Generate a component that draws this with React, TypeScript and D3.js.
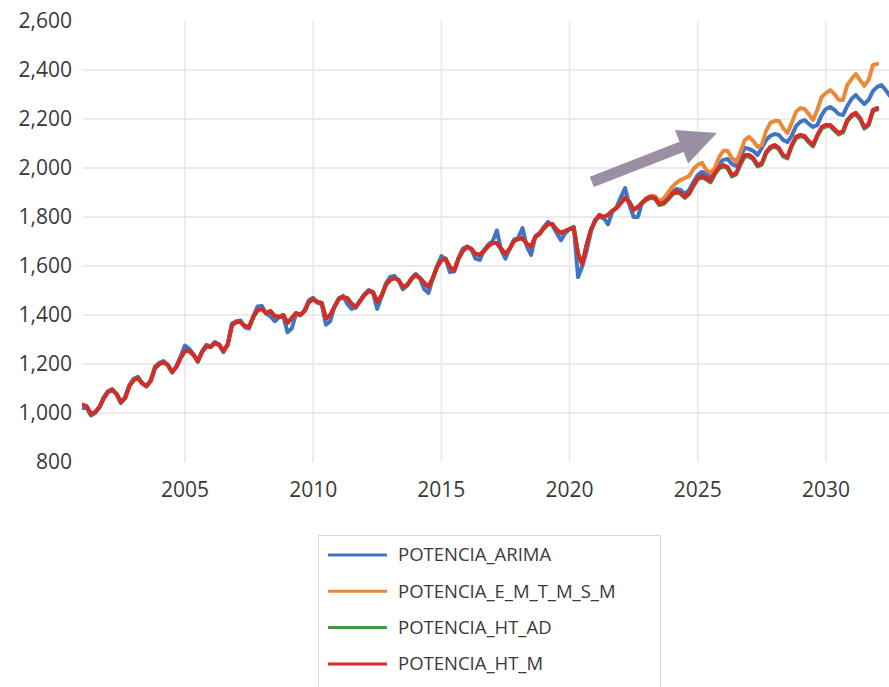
import * as d3 from "d3";

// bimonthly points from 2001.0 (i / 6 years after the start)
const startYear = 2001;
const stepYears = 1 / 6;

// shared history (E_M_T_M_S_M, HT_AD, HT_M) 2001.0 - 2022.83
const historico = [
  1033, 1027, 996, 1004, 1024, 1061,
  1086, 1094, 1078, 1045, 1061, 1110,
  1135, 1143, 1122, 1110, 1131, 1184,
  1200, 1208, 1196, 1167, 1188, 1225,
  1253, 1253, 1237, 1212, 1249, 1273,
  1269, 1286, 1278, 1253, 1278, 1359,
  1371, 1371, 1355, 1351, 1392, 1420,
  1425, 1408, 1416, 1396, 1392, 1400,
  1367, 1388, 1408, 1400, 1416, 1453,
  1465, 1453, 1449, 1385, 1400, 1433,
  1465, 1473, 1469, 1445, 1433, 1457,
  1482, 1498, 1494, 1453, 1478, 1522,
  1543, 1551, 1543, 1514, 1522, 1547,
  1563, 1551, 1531, 1514, 1551, 1596,
  1624, 1629, 1596, 1580, 1629, 1661,
  1678, 1670, 1649, 1645, 1661, 1682,
  1694, 1694, 1670, 1649, 1670, 1702,
  1710, 1714, 1690, 1678, 1718, 1731,
  1755, 1771, 1771, 1747, 1735, 1743,
  1751, 1755, 1649, 1608, 1686, 1747,
  1784, 1808, 1800, 1808, 1825, 1837,
  1857, 1878, 1861, 1829, 1841, 1857,
];

// ARIMA history (same period)
const arimaHistorico = [
  1020, 1020, 990, 1000, 1024, 1065,
  1090, 1098, 1075, 1040, 1065, 1115,
  1140, 1148, 1120, 1108, 1135, 1190,
  1205, 1212, 1195, 1165, 1192, 1232,
  1275, 1262, 1240, 1208, 1252, 1278,
  1272, 1290, 1280, 1248, 1282, 1365,
  1375, 1378, 1350, 1345, 1395, 1435,
  1437, 1405, 1395, 1375, 1390, 1395,
  1330, 1345, 1405, 1398, 1420, 1460,
  1470, 1450, 1445, 1360, 1375, 1435,
  1468, 1478, 1445, 1425, 1430, 1460,
  1485, 1502, 1490, 1425, 1475, 1528,
  1555, 1560, 1540, 1505, 1520, 1550,
  1568, 1548, 1505, 1490, 1548, 1600,
  1640, 1630, 1575, 1578, 1632, 1670,
  1680, 1668, 1630, 1625, 1665, 1688,
  1700, 1745, 1665, 1630, 1672, 1708,
  1715, 1755, 1680, 1645, 1722, 1735,
  1760, 1780, 1765, 1735, 1705, 1735,
  1750, 1760, 1555, 1600, 1660, 1740,
  1790, 1800, 1795, 1770, 1820, 1840,
  1880, 1918, 1850, 1800, 1800, 1860,
];

// forecasts from 2023.0
const arimaPron = [
  1874, 1882, 1882, 1857, 1861, 1882,
  1902, 1914, 1910, 1894, 1910, 1943,
  1971, 1984, 1976, 1963, 1992, 2020,
  2033, 2037, 2016, 2008, 2049, 2082,
  2078, 2069, 2053, 2082, 2114, 2131,
  2139, 2135, 2114, 2106, 2131, 2171,
  2188, 2196, 2180, 2167, 2176, 2216,
  2241, 2249, 2237, 2220, 2216, 2253,
  2282, 2298, 2278, 2261, 2278, 2314,
  2331, 2339, 2318, 2294,
];

const emtmsmPron = [
  1878, 1886, 1886, 1865, 1874, 1898,
  1923, 1939, 1951, 1959, 1967, 1996,
  2012, 2021, 1992, 1980, 2000, 2045,
  2070, 2070, 2041, 2025, 2065, 2114,
  2127, 2110, 2086, 2094, 2151, 2184,
  2192, 2192, 2163, 2143, 2184, 2229,
  2245, 2241, 2220, 2196, 2237, 2290,
  2306, 2318, 2302, 2278, 2278, 2339,
  2363, 2384, 2359, 2335, 2359, 2420,
  2425,
];

const htadPron = [
  1870, 1878, 1874, 1849, 1853, 1870,
  1890, 1902, 1894, 1878, 1894, 1926,
  1953, 1961, 1953, 1941, 1974, 1998,
  2006, 1998, 1965, 1974, 2014, 2047,
  2047, 2035, 2006, 2014, 2059, 2080,
  2088, 2076, 2047, 2039, 2088, 2121,
  2129, 2125, 2104, 2088, 2129, 2161,
  2170, 2170, 2153, 2137, 2145, 2190,
  2210, 2219, 2198, 2161, 2174, 2231,
  2239,
];

const htmPron = [
  1874, 1882, 1878, 1853, 1857, 1874,
  1894, 1906, 1898, 1882, 1898, 1931,
  1959, 1967, 1959, 1947, 1980, 2004,
  2012, 2004, 1971, 1980, 2020, 2053,
  2053, 2041, 2012, 2020, 2065, 2086,
  2094, 2082, 2053, 2045, 2094, 2127,
  2135, 2131, 2110, 2094, 2135, 2167,
  2176, 2176, 2159, 2143, 2151, 2196,
  2216, 2225, 2204, 2167, 2180, 2237,
  2245,
];

const seriesNames = [
  "POTENCIA_ARIMA",
  "POTENCIA_E_M_T_M_S_M",
  "POTENCIA_HT_AD",
  "POTENCIA_HT_M",
];
const seriesColors = ["#4174c4", "#eb893a", "#3f9a4a", "#d42b2b"];

const yTicks = [800, 1000, 1200, 1400, 1600, 1800, 2000, 2200, 2400, 2600];
const xTicks = [2005, 2010, 2015, 2020, 2025, 2030];

// arrow annotation, in data units (year, value)
const arrowFrom = [2020.87, 1943];
const arrowTo = [2025.75, 2143];

const width = 889;
const height = 687;
const textColor = "#3a3a3a";
const gridColor = "#e6e6e6";
const font = "'Open Sans', sans-serif";

type Pt = { t: number; v: number };

function toPoints(values: number[]): Pt[] {
  return values.map((v, i) => ({ t: startYear + i * stepYears, v }));
}

export default function App() {
  const x = d3.scaleLinear([2001, 2032.5], [82.4, 890]);
  const y = d3.scaleLinear([800, 2600], [462, 21]);

  const series = [
    toPoints(arimaHistorico.concat(arimaPron)),
    toPoints(historico.concat(emtmsmPron)),
    toPoints(historico.concat(htadPron)),
    toPoints(historico.concat(htmPron)),
  ];

  const line = d3
    .line<Pt>()
    .x((d) => x(d.t))
    .y((d) => y(d.v));

  // arrow polygon built around the data-space endpoints
  const x0 = x(arrowFrom[0]);
  const y0 = y(arrowFrom[1]);
  const x1 = x(arrowTo[0]);
  const y1 = y(arrowTo[1]);
  const len = Math.hypot(x1 - x0, y1 - y0);
  const ux = (x1 - x0) / len;
  const uy = (y1 - y0) / len;
  const px = -uy;
  const py = ux;
  const shaft = 5.5;
  const headW = 18;
  const headL = 38;
  const bx = x1 - ux * headL;
  const by = y1 - uy * headL;
  const arrowPts = [
    [x0 + px * shaft, y0 + py * shaft],
    [bx + px * shaft, by + py * shaft],
    [bx + px * headW, by + py * headW],
    [x1, y1],
    [bx - px * headW, by - py * headW],
    [bx - px * shaft, by - py * shaft],
    [x0 - px * shaft, y0 - py * shaft],
  ]
    .map((p) => p.join(","))
    .join(" ");

  const fmt = d3.format(",");

  return (
    <svg
      width={width}
      height={height}
      style={{ position: "absolute", left: 0, top: 0, background: "#fff" }}
      fontFamily={font}
    >
      <defs>
        <clipPath id="plot">
          <rect x={82} y={0} width={width - 82} height={470} />
        </clipPath>
      </defs>

      {/* grid */}
      {yTicks
        .filter((t) => t > 800 && t < 2600)
        .map((t) => (
          <line
            key={"gy" + t}
            x1={83}
            x2={width}
            y1={y(t)}
            y2={y(t)}
            stroke={gridColor}
            strokeWidth={1.5}
          />
        ))}
      {xTicks.map((t) => (
        <line
          key={"gx" + t}
          x1={x(t)}
          x2={x(t)}
          y1={y(2600)}
          y2={y(800)}
          stroke={gridColor}
          strokeWidth={1.5}
        />
      ))}

      {/* tick labels */}
      {yTicks.map((t) => (
        <text
          key={"ly" + t}
          x={72}
          y={y(t)}
          dy="0.35em"
          textAnchor="end"
          fontSize={21}
          fill={textColor}
        >
          {fmt(t)}
        </text>
      ))}
      {xTicks.map((t) => (
        <text
          key={"lx" + t}
          x={x(t)}
          y={497}
          textAnchor="middle"
          fontSize={21}
          fill={textColor}
        >
          {t}
        </text>
      ))}

      {/* series */}
      <g clipPath="url(#plot)">
        {series.map((s, i) => (
          <path
            key={seriesNames[i]}
            d={line(s) || ""}
            fill="none"
            stroke={seriesColors[i]}
            strokeWidth={4}
            strokeLinejoin="round"
            strokeLinecap="round"
          />
        ))}
      </g>

      {/* arrow annotation */}
      <polygon points={arrowPts} fill="#9b8fa3" />

      {/* legend */}
      <rect
        x={318.5}
        y={535.5}
        width={342}
        height={170}
        fill="#fff"
        stroke="#d9d9d9"
        strokeWidth={1}
      />
      {seriesNames.map((name, i) => {
        const ly = 555 + i * 36.3;
        return (
          <g key={"lg" + name}>
            <line
              x1={328}
              x2={387}
              y1={ly}
              y2={ly}
              stroke={seriesColors[i]}
              strokeWidth={3}
            />
            <text
              x={398}
              y={ly}
              dy="0.35em"
              fontSize={18.5}
              fill={textColor}
            >
              {name}
            </text>
          </g>
        );
      })}
    </svg>
  );
}
